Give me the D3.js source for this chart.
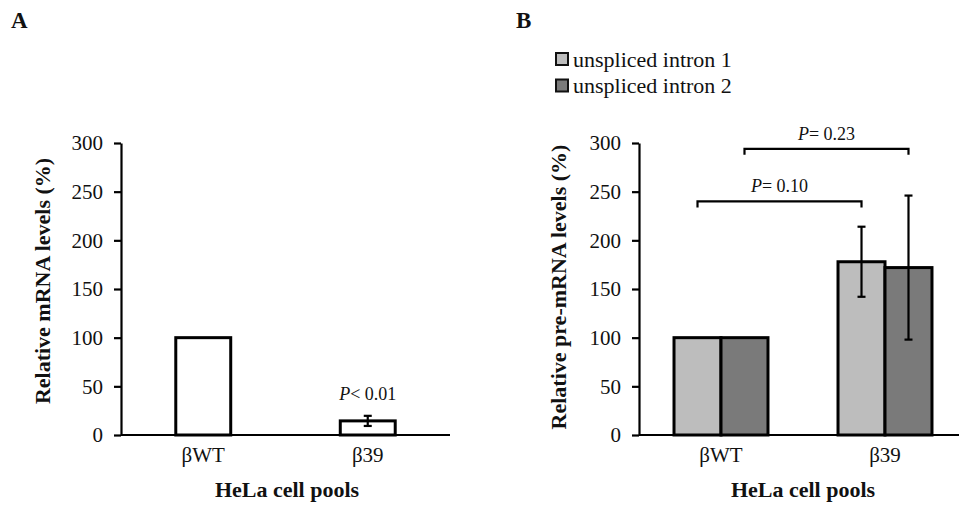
<!DOCTYPE html>
<html>
<head>
<meta charset="utf-8">
<script src="https://cdn.jsdelivr.net/npm/d3@7"></script>
<style>
  body { margin: 0; background: #fff; }
  text { font-family: "Liberation Serif", "Times New Roman", serif; fill: #111; }
</style>
</head>
<body>
<div id="chart"></div>
<script>
// data
var categories = ["βWT", "β39"];
var yTicks = [0, 50, 100, 150, 200, 250, 300];

// panel A
var mrnaValues = [100, 14.5];
var mrnaErrors = [0, 5.2];
var mrnaNote = "< 0.01";

// panel B
var seriesNames = ["unspliced intron 1", "unspliced intron 2"];
var intron1Values = [100, 178];
var intron1Errors = [0, 36];
var intron2Values = [100, 172];
var intron2Errors = [0, 74];
var bracketFrom = [[0, 0], [0, 1]];   // [category, series]
var bracketTo = [[1, 0], [1, 1]];
var bracketLevel = [240, 294];
var bracketNote = ["= 0.10", "= 0.23"];

var colors = ["#bdbdbd", "#7a7a7a"];

var svg = d3.select("#chart")
    .append("svg")
    .attr("width", 959)
    .attr("height", 508)

var y = d3.scaleLinear().domain([0, 300]).range([435, 143])

function drawYAxis(x0) {
    var g = svg.append("g")
        .attr("transform", "translate(" + x0 + ",0)")
        .call(d3.axisLeft(y).tickValues(yTicks).tickSize(7).tickSizeOuter(0).tickPadding(11))
    g.select(".domain").style("stroke", "#000").style("stroke-width", 2.2)
    g.selectAll(".tick line").style("stroke", "#000").style("stroke-width", 2.2)
    g.selectAll(".tick text")
        .style("font-size", "21px")
        .style("font-family", "Liberation Serif")
        .attr("fill", "#111")
}

function drawXAxis(scale, x0, x1) {
    var g = svg.append("g")
        .attr("transform", "translate(0,435)")
        .call(d3.axisBottom(scale).tickSize(0).tickPadding(12))
    g.select(".domain").remove()
    g.selectAll(".tick text")
        .style("font-size", "21px")
        .style("font-family", "Liberation Serif")
        .attr("fill", "#111")
    svg.append("line")
        .attr("x1", x0)
        .attr("x2", x1)
        .attr("y1", 435)
        .attr("y2", 435)
        .style("stroke", "#000")
        .style("stroke-width", 2.2)
}

function errorBar(cx, v, e) {
    if (!e) return
    svg.append("line")
        .attr("x1", cx).attr("x2", cx)
        .attr("y1", y(v + e)).attr("y2", y(v - e))
        .style("stroke", "#000").style("stroke-width", 2.2)
    ;[v + e, v - e].forEach(function (d) {
        svg.append("line")
            .attr("x1", cx - 4).attr("x2", cx + 4)
            .attr("y1", y(d)).attr("y2", y(d))
            .style("stroke", "#000").style("stroke-width", 2.2)
    })
}

function pText(x, yy, rest) {
    var t = svg.append("text")
        .attr("x", x)
        .attr("y", yy)
        .attr("text-anchor", "middle")
        .style("font-size", "18px")
    t.append("tspan").style("font-style", "italic").text("P")
    t.append("tspan").text(rest)
}

function titles(cxAxis, cyAxis, yTitle, cxX, letterX, letter) {
    svg.append("text")
        .attr("transform", "translate(" + cxAxis + "," + cyAxis + ") rotate(-90)")
        .attr("text-anchor", "middle")
        .attr("dy", "0.35em")
        .style("font-size", "22px")
        .style("font-weight", "bold")
        .text(yTitle)
    svg.append("text")
        .attr("x", cxX)
        .attr("y", 497)
        .attr("text-anchor", "middle")
        .style("font-size", "22px")
        .style("font-weight", "bold")
        .text("HeLa cell pools")
    svg.append("text")
        .attr("x", letterX)
        .attr("y", 28)
        .style("font-size", "23px")
        .style("font-weight", "bold")
        .text(letter)
}

// ---------- panel A ----------
var xA = d3.scaleBand().domain(categories).range([121, 450]).paddingInner(0.666).paddingOuter(0.333)

svg.selectAll(".barA")
    .data(mrnaValues)
    .enter()
    .append("rect")
    .attr("x", function (d, i) { return xA(categories[i]) })
    .attr("y", function (d) { return y(d) })
    .attr("width", xA.bandwidth())
    .attr("height", function (d) { return y(0) - y(d) })
    .style("fill", "#fff")
    .style("stroke", "#000")
    .style("stroke-width", 3)

mrnaValues.forEach(function (v, i) {
    errorBar(xA(categories[i]) + xA.bandwidth() / 2, v, mrnaErrors[i])
})

pText(xA(categories[1]) + xA.bandwidth() / 2, y(mrnaValues[1] + mrnaErrors[1]) - 16, mrnaNote)

drawXAxis(xA, 121, 450)
drawYAxis(121)
titles(42, 281, "Relative mRNA levels (%)", 287, 11, "A")

// ---------- panel B ----------
var xB = d3.scaleBand().domain(categories).range([639, 967]).paddingInner(0.427).paddingOuter(0.2135)
var xS = d3.scaleBand().domain(seriesNames).range([0, xB.bandwidth()])
var bValues = [intron1Values, intron2Values]
var bErrors = [intron1Errors, intron2Errors]

function centerB(c, s) {
    return xB(categories[c]) + xS(seriesNames[s]) + xS.bandwidth() / 2
}

seriesNames.forEach(function (name, s) {
    svg.selectAll(".barB" + s)
        .data(bValues[s])
        .enter()
        .append("rect")
        .attr("x", function (d, i) { return xB(categories[i]) + xS(name) })
        .attr("y", function (d) { return y(d) })
        .attr("width", xS.bandwidth())
        .attr("height", function (d) { return y(0) - y(d) })
        .style("fill", colors[s])
        .style("stroke", "#000")
        .style("stroke-width", 3)
})

seriesNames.forEach(function (name, s) {
    bValues[s].forEach(function (v, i) {
        errorBar(centerB(i, s), v, bErrors[s][i])
    })
})

for (var k = 0; k < bracketLevel.length; k++) {
    var xa = centerB(bracketFrom[k][0], bracketFrom[k][1])
    var xb = centerB(bracketTo[k][0], bracketTo[k][1])
    var yy = y(bracketLevel[k])
    svg.append("path")
        .attr("d", "M" + xa + "," + (yy + 6) + "V" + yy + "H" + xb + "V" + (yy + 6))
        .style("fill", "none")
        .style("stroke", "#000")
        .style("stroke-width", 2.2)
    pText((xa + xb) / 2, yy - 9, bracketNote[k])
}

drawXAxis(xB, 639, 959)
drawYAxis(639)
titles(558, 287, "Relative pre-mRNA levels (%)", 803, 516, "B")

// legend
seriesNames.forEach(function (name, s) {
    svg.append("rect")
        .attr("x", 556)
        .attr("y", 53 + s * 26.5)
        .attr("width", 12)
        .attr("height", 12)
        .style("fill", colors[s])
        .style("stroke", "#111")
        .style("stroke-width", 2)
    svg.append("text")
        .attr("x", 573)
        .attr("y", 66.5 + s * 26)
        .style("font-size", "22px")
        .text(name)
})
</script>
</body>
</html>
